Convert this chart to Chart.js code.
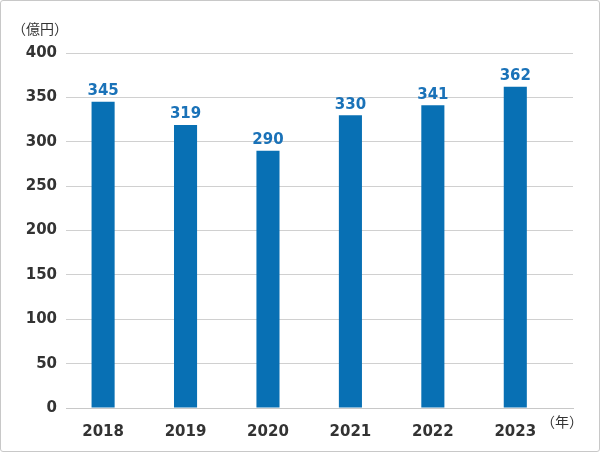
<!DOCTYPE html>
<html>
<head>
<meta charset="utf-8">
<script src="https://cdn.jsdelivr.net/npm/chart.js@4"></script>
<style>
  html, body { margin: 0; padding: 0; background: #fff; }
  .frame { width: 598px; height: 450px; border: 1px solid #c8c8c8; border-radius: 3px; }
  canvas { display: block; }
</style>
</head>
<body>
<div class="frame"><canvas id="salesChart" width="598" height="450"></canvas></div>
<script>
const years = ['2018', '2019', '2020', '2021', '2022', '2023'];
const sales = [345, 319, 290, 330, 341, 362];
const yTicks = [0, 50, 100, 150, 200, 250, 300, 350, 400];

const barColor = '#0870b4';
const labelColor = '#1a72b8';
const textColor = '#333333';
const tickFont = { family: 'Verdana, "DejaVu Sans", sans-serif', size: 15, weight: 'bold' };

const extras = {
    id: 'extras',
    afterDatasetsDraw(chart) {
        const ctx = chart.ctx;
        const meta = chart.getDatasetMeta(0);
        ctx.save();
        ctx.font = 'bold 15px Verdana, "DejaVu Sans", sans-serif';
        ctx.fillStyle = labelColor;
        ctx.textAlign = 'center';
        ctx.textBaseline = 'bottom';
        meta.data.forEach((bar, i) => {
            ctx.fillText(String(sales[i]), bar.x, bar.y - 3);
        });
        ctx.font = '14px "Noto Sans CJK JP", sans-serif';
        ctx.fillStyle = textColor;
        ctx.textBaseline = 'middle';
        ctx.fillText('（億円）', 39, 28);
        ctx.fillText('（年）', 561, 421);
        ctx.restore();
    },
};

new Chart(document.getElementById('salesChart').getContext('2d'), {
    type: 'bar',
    data: {
        datasets: [{
            data: sales.map((v, i) => ({ x: i, y: v })),
            backgroundColor: barColor,
            barPercentage: 0.28,
            categoryPercentage: 1,
        }],
    },
    options: {
        responsive: false,
        animation: false,
        layout: { padding: { top: 52, right: 26, bottom: 0, left: 0 } },
        plugins: {
            legend: { display: false },
            tooltip: { enabled: false },
        },
        scales: {
            x: {
                type: 'linear',
                offset: false,
                min: -0.45,
                max: 5.7,
                afterBuildTicks: (s) => { s.ticks = years.map((_, i) => ({ value: i })); },
                afterFit: (s) => { s.height = 43; },
                ticks: {
                    color: textColor,
                    font: tickFont,
                    padding: 7,
                    autoSkip: false,
                    maxRotation: 0,
                    callback: (v) => years[v],
                },
                grid: { display: false, offset: false },
                border: { color: '#c8c8c8' },
            },
            y: {
                min: 0,
                max: 400,
                afterBuildTicks: (s) => { s.ticks = yTicks.map((v) => ({ value: v })); },
                afterFit: (s) => { s.width = 65; },
                ticks: {
                    color: textColor,
                    font: tickFont,
                    padding: 9,
                },
                grid: { color: '#d0d0d0', drawTicks: false },
                border: { display: false },
            },
        },
    },
    plugins: [extras],
});
</script>
</body>
</html>
